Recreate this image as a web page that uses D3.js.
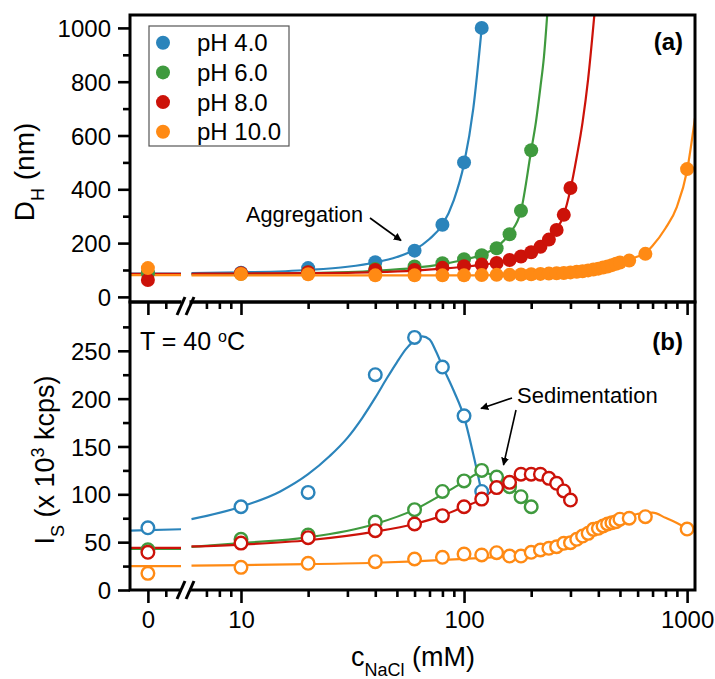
<!DOCTYPE html>
<html>
<head>
<meta charset="utf-8">
<script src="https://cdn.jsdelivr.net/npm/d3@7/dist/d3.min.js"></script>
<style>
  html, body { margin: 0; padding: 0; background: #fff; }
  svg { display: block; font-family: "Liberation Sans", Arial, Helvetica, sans-serif; }
</style>
</head>
<body>
<svg id="chart" width="715" height="679"></svg>
<script>
// ---- measured data: NaCl concentration (mM) ----
const concPH4  = [0, 10, 20, 40, 60, 80, 100, 120];
const concPH6  = [0, 10, 20, 40, 60, 80, 100, 120, 140, 160, 180, 200];
const concPH8  = [0, 10, 20, 40, 60, 80, 100, 120, 140, 160, 180, 200, 220, 240, 260, 280, 300];
const concPH10 = [0, 10, 20, 40, 60, 80, 100, 120, 140, 160, 180, 200, 220, 240, 260, 280, 300,
                  320, 340, 360, 380, 400, 420, 440, 460, 480, 500, 550, 650, 1000];

// hydrodynamic diameter D_H (nm)
const dhPH4  = [90, 90, 107, 129, 172, 268, 500, 1000];
const dhPH6  = [88, 86, 92, 104, 113, 125, 140, 155, 181, 233, 320, 545];
const dhPH8  = [63, 88, 92, 100, 100, 108, 114, 120, 126, 137, 150, 166, 186, 213, 249, 305, 405];
const dhPH10 = [107, 85, 84, 80, 80, 80, 80, 81, 82, 82, 83, 84, 85.5, 86.6, 88, 89, 91,
                93, 95.5, 98.5, 101.5, 105, 109, 113, 118, 123, 128, 135, 160, 475];

// scattered intensity I_S (x 10^3 kcps)
const isPH4  = [65, 87, 102, 225, 264, 233, 182, 103];
const isPH6  = [42, 53, 57.5, 71, 84, 103, 114, 125, 118, 108, 97.5, 87];
const isPH8  = [39.4, 49, 54.7, 62, 69, 77.7, 87, 95, 107, 112.5, 121, 121, 121, 116.7, 111.5, 103.5, 94];
const isPH10 = [17.4, 23.7, 27.9, 29.6, 32.4, 34.2, 37.6, 36.6, 39, 35.5, 35.5, 39.4, 41.8, 43.6, 45.2,
                48.8, 49.4, 53, 56.4, 59.2, 63.4, 64.5, 66.9, 69, 70.3, 71.4, 74, 75, 76.6, 63.7];

// fitted guide curves: level in the 0 mM segment, then [c, value] knots on the log segment
const fitDhLead = [87, 85, 86, 81];
const fitDhPH4  = [[6,88],[10,91],[20,100],[30,112],[40,128],[50,148],[60,175],[70,215],[80,268],[90,360],[100,495],[110,700],[120,1000]];
const fitDhPH6  = [[6,84],[10,85],[20,88],[40,97],[60,108],[80,122],[100,138],[120,157],[140,185],[160,235],[180,320],[200,545],[210,650],[220,780],[228,890],[237,1070]];
const fitDhPH8  = [[6,86],[10,87],[20,88],[40,92],[60,98],[80,105],[100,112],[120,119],[140,127],[160,137],[180,150],[200,166],[220,186],[240,213],[260,250],[280,305],[300,400],[320,520],[340,650],[360,810],[386,1070]];
const fitDhPH10 = [[6,80],[10,80],[50,80],[100,80],[150,81],[200,83],[250,86],[300,90],[350,96],[400,104],[450,114],[500,126],[550,138],[600,150],[650,163],[700,190],[800,255],[900,335],[1000,470],[1085,665]];

const fitIsLead = [[62, 63.5], [43, 43], [44, 44], [25, 25]];
const fitIsPH4  = [[6,74],[10,87],[15,103],[20,121],[25,140],[30,159],[35,180],[40,201],[45,221],[50,238],[55,252],[60,261],[65,265],[70,262],[75,249],[80,234],[90,208],[100,181],[110,142],[120,102]];
const fitIsPH6  = [[6,45],[10,49],[20,55],[40,69],[60,84],[80,100],[100,113],[120,123],[140,118],[160,108],[180,97.5],[200,87]];
const fitIsPH8  = [[6,45.5],[10,47.5],[20,52],[40,61],[60,69],[80,77.7],[100,87],[120,95],[140,107],[160,112.5],[180,119],[200,121],[220,121],[240,117],[260,111.5],[280,103.5],[300,94]];
const fitIsPH10 = [[6,25.5],[10,26],[20,27],[40,28.5],[60,30],[100,32.5],[150,35],[200,38],[250,42],[300,47],[350,53],[400,60],[450,67],[500,73],[550,77.5],[600,79.5],[650,80.5],[700,80.8],[800,75.5],[900,70],[1000,64]];

const seriesNames = ["pH 4.0", "pH 6.0", "pH 8.0", "pH 10.0"];
const seriesColors = ["#2b84bb", "#3f9a3e", "#cc1209", "#ff8a14"];

const yTicksA = [0, 200, 400, 600, 800, 1000];
const yMinorA = [100, 300, 500, 700, 900];
const yTicksB = [0, 50, 100, 150, 200, 250];
const yMinorB = [25, 75, 125, 175, 225, 275];
const xTicksLog = [10, 100, 1000];
const xMinorLog = [7, 8, 9, 20, 30, 40, 50, 60, 70, 80, 90, 200, 300, 400, 500, 600, 700, 800, 900];

// ---- layout ----
const L = 130, R = 695;
const aTop = 15, aBot = 302, bTop = 302, bBot = 590;

const svg = d3.select("#chart");

// broken x axis: short linear piece holding 0 mM, then a log piece
const xLin = d3.scaleLinear().domain([-2, 3.7]).range([L, 181]);
const xLog = d3.scaleLog().domain([6, 1085]).range([191.5, R]);
const xPos = c => (c === 0 ? xLin(0) : xLog(c));

const yA = d3.scaleLinear().domain([-19, 1048]).range([aBot, aTop]);
const yB = d3.scaleLinear().domain([0, 301]).range([bBot, bTop]);

// clip regions per panel
const defs = svg.append("defs");
defs.append("clipPath").attr("id", "clipA").append("rect")
  .attr("x", L).attr("y", aTop).attr("width", R - L).attr("height", aBot - aTop);
defs.append("clipPath").attr("id", "clipB").append("rect")
  .attr("x", L).attr("y", bTop).attr("width", R - L).attr("height", bBot - bTop);
defs.append("marker").attr("id", "arrow").attr("viewBox", "0 0 10 10")
  .attr("refX", 9).attr("refY", 5).attr("markerWidth", 5).attr("markerHeight", 5)
  .attr("markerUnits", "strokeWidth").attr("orient", "auto")
  .append("path").attr("d", "M0,0 L10,5 L0,10 z").attr("fill", "#000");

const lineGen = d3.line().curve(d3.curveMonotoneX);

function drawPanel(yScale, clipId, fitLeads, fits, concs, values, filled) {
  const g = svg.append("g");
  const lines = g.append("g").attr("clip-path", `url(#${clipId})`);
  fits.forEach((fit, i) => {
    const lead = Array.isArray(fitLeads[i]) ? fitLeads[i] : [fitLeads[i], fitLeads[i]];
    // segment left of the axis break
    lines.append("path")
      .attr("d", d3.line()([[xLin(-2), yScale(lead[0])], [xLin(3.7), yScale(lead[1])]]))
      .attr("fill", "none").attr("stroke", seriesColors[i]).attr("stroke-width", 2.2);
    // log segment
    lines.append("path")
      .attr("d", lineGen(fit.map(d => [xLog(d[0]), yScale(d[1])])))
      .attr("fill", "none").attr("stroke", seriesColors[i]).attr("stroke-width", 2.2);
  });
  concs.forEach((cs, i) => {
    g.append("g").selectAll("circle").data(cs.map((c, k) => [c, values[i][k]]))
      .join("circle")
      .attr("cx", d => xPos(d[0]))
      .attr("cy", d => yScale(d[1]))
      .attr("r", filled ? 7 : 6.3)
      .attr("fill", filled ? seriesColors[i] : "#fff")
      .attr("stroke", filled ? "none" : seriesColors[i])
      .attr("stroke-width", filled ? 0 : 2.4);
  });
}

drawPanel(yA, "clipA", fitDhLead, [fitDhPH4, fitDhPH6, fitDhPH8, fitDhPH10],
  [concPH4, concPH6, concPH8, concPH10], [dhPH4, dhPH6, dhPH8, dhPH10], true);
drawPanel(yB, "clipB", fitIsLead, [fitIsPH4, fitIsPH6, fitIsPH8, fitIsPH10],
  [concPH4, concPH6, concPH8, concPH10], [isPH4, isPH6, isPH8, isPH10], false);

// ---- axes ----
function styleAxis(sel, width) {
  sel.select(".domain").remove();
  sel.selectAll(".tick line").attr("stroke", "#000").attr("stroke-width", width);
  sel.selectAll(".tick text").attr("fill", "#000").style("font-size", "24px")
     .style("font-family", '"Liberation Sans", Arial, sans-serif');
}

// y axes
[[yA, yTicksA, yMinorA], [yB, yTicksB, yMinorB]].forEach(([ys, major, minor]) => {
  const gMaj = svg.append("g").attr("transform", `translate(${L},0)`)
    .call(d3.axisLeft(ys).tickValues(major).tickSize(12).tickPadding(7).tickFormat(d3.format("d")));
  styleAxis(gMaj, 2.6);
  gMaj.selectAll(".tick text").attr("dy", "0.36em");
  const gMin = svg.append("g").attr("transform", `translate(${L},0)`)
    .call(d3.axisLeft(ys).tickValues(minor).tickSize(7).tickFormat(""));
  styleAxis(gMin, 2.6);
});

// x axes: bottom of panel (a) without labels, bottom of panel (b) with labels
[[aBot, false], [bBot, true]].forEach(([yy, labels]) => {
  const gLinMaj = svg.append("g").attr("transform", `translate(0,${yy})`)
    .call(d3.axisBottom(xLin).tickValues([0]).tickSize(13).tickPadding(8).tickFormat(labels ? d3.format("d") : ""));
  styleAxis(gLinMaj, 2.6);
  const gLinMin = svg.append("g").attr("transform", `translate(0,${yy})`)
    .call(d3.axisBottom(xLin).tickValues([2]).tickSize(7).tickFormat(""));
  styleAxis(gLinMin, 2.6);
  const gLogMaj = svg.append("g").attr("transform", `translate(0,${yy})`)
    .call(d3.axisBottom(xLog).tickValues(xTicksLog).tickSize(13).tickPadding(8).tickFormat(labels ? d3.format("d") : ""));
  styleAxis(gLogMaj, 2.6);
  const gLogMin = svg.append("g").attr("transform", `translate(0,${yy})`)
    .call(d3.axisBottom(xLog).tickValues(xMinorLog).tickSize(7).tickFormat(""));
  styleAxis(gLogMin, 2.6);
});

// panel frames
[[aTop, aBot], [bTop, bBot]].forEach(([t, b]) => {
  svg.append("rect").attr("x", L).attr("y", t).attr("width", R - L).attr("height", b - t)
    .attr("fill", "none").attr("stroke", "#000").attr("stroke-width", 3);
});

// axis break marks
[[aBot, 4], [bBot, 0]].forEach(([yy, off]) => {
  const c = yy + off;
  svg.append("rect").attr("x", 181.5).attr("y", yy - 2.5).attr("width", 8).attr("height", 5).attr("fill", "#fff");
  [[177, 185], [186, 194]].forEach(([x0, x1]) => {
    svg.append("line").attr("x1", x0).attr("y1", c + 9).attr("x2", x1).attr("y2", c - 9)
      .attr("stroke", "#000").attr("stroke-width", 3);
  });
});

// ---- axis titles ----
const yTitleA = svg.append("text").attr("transform", "translate(34,172) rotate(-90)")
  .attr("text-anchor", "middle").style("font-size", "28px");
yTitleA.append("tspan").text("D");
yTitleA.append("tspan").attr("baseline-shift", "sub").style("font-size", "18px").text("H");
yTitleA.append("tspan").text(" (nm)");

const yTitleB = svg.append("text").attr("transform", "translate(54,460) rotate(-90)")
  .attr("text-anchor", "middle").style("font-size", "27px");
yTitleB.append("tspan").text("I");
yTitleB.append("tspan").attr("baseline-shift", "sub").style("font-size", "18px").text("S");
yTitleB.append("tspan").text(" (x 10");
yTitleB.append("tspan").attr("baseline-shift", "super").style("font-size", "18px").text("3");
yTitleB.append("tspan").text(" kcps)");

const xTitle = svg.append("text").attr("x", 413).attr("y", 666)
  .attr("text-anchor", "middle").style("font-size", "27px");
xTitle.append("tspan").text("c");
xTitle.append("tspan").attr("baseline-shift", "sub").style("font-size", "18px").text("NaCl");
xTitle.append("tspan").text(" (mM)");

// ---- panel labels and annotations ----
svg.append("text").attr("x", 683).attr("y", 50).attr("text-anchor", "end")
  .style("font-size", "24px").style("font-weight", "bold").text("(a)");
svg.append("text").attr("x", 683).attr("y", 350).attr("text-anchor", "end")
  .style("font-size", "24px").style("font-weight", "bold").text("(b)");

const tLabel = svg.append("text").attr("x", 140).attr("y", 350).style("font-size", "25px");
tLabel.append("tspan").text("T = 40 ");
tLabel.append("tspan").attr("baseline-shift", "super").style("font-size", "16px").text("o");
tLabel.append("tspan").text("C");

svg.append("text").attr("x", 246).attr("y", 222).style("font-size", "21.7px").text("Aggregation");
svg.append("line").attr("x1", 370).attr("y1", 218).attr("x2", 401).attr("y2", 240.5)
  .attr("stroke", "#000").attr("stroke-width", 1.6).attr("marker-end", "url(#arrow)");

svg.append("text").attr("x", 517).attr("y", 403).style("font-size", "22px").text("Sedimentation");
svg.append("line").attr("x1", 512).attr("y1", 398).attr("x2", 481).attr("y2", 408.5)
  .attr("stroke", "#000").attr("stroke-width", 1.6).attr("marker-end", "url(#arrow)");
svg.append("line").attr("x1", 516).attr("y1", 410).attr("x2", 503.5).attr("y2", 465)
  .attr("stroke", "#000").attr("stroke-width", 1.6).attr("marker-end", "url(#arrow)");

// ---- legend ----
const leg = svg.append("g");
leg.append("rect").attr("x", 149).attr("y", 26).attr("width", 140).attr("height", 120)
  .attr("fill", "#fff").attr("stroke", "#555").attr("stroke-width", 1.2);
seriesNames.forEach((name, i) => {
  const cy = 42.7 + i * 29.7;
  leg.append("circle").attr("cx", 163).attr("cy", cy).attr("r", 7).attr("fill", seriesColors[i]);
  leg.append("text").attr("x", 197).attr("y", cy + 8.5).style("font-size", "24px").text(name);
});
</script>
</body>
</html>
